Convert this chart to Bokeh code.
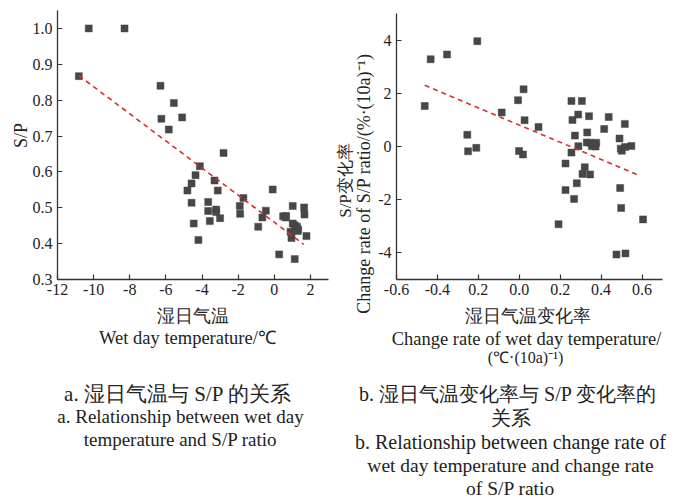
import math
from bokeh.plotting import figure
from bokeh.models import (FixedTicker, CustomJSTickFormatter, Range1d, LinearAxis,
                          Label)
from bokeh.embed import file_html
from bokeh.resources import INLINE

# ---------------- data ----------------
# Panel a: wet day temperature (°C) vs S/P
wet_temp = [-10.27, -8.29, -10.82, -6.30, -5.56, -6.25, -5.10, -5.84, -2.81, -4.12,
            -4.36, -3.31, -4.58, -4.81, -3.13, -0.09, -1.71, -4.58, -3.66, -1.91,
            1.02, 1.65, -3.66, -3.22, -3.22, -0.47, -1.89, 1.67, 0.49, 0.63,
            0.65, -0.66, -3.00, -3.57, -4.46, -0.89, 1.02, 1.13, 1.26, 1.32,
            1.30, 0.90, 0.95, 1.78, 0.27, 1.13, -4.20]
sp_ratio = [1.0, 1.0, 0.867, 0.84, 0.792, 0.748, 0.752, 0.718, 0.653, 0.616,
            0.591, 0.576, 0.568, 0.548, 0.548, 0.551, 0.527, 0.514, 0.516, 0.505,
            0.505, 0.501, 0.491, 0.495, 0.488, 0.492, 0.483, 0.481, 0.476, 0.473,
            0.477, 0.473, 0.471, 0.463, 0.456, 0.447, 0.456, 0.451, 0.447, 0.439,
            0.435, 0.433, 0.416, 0.421, 0.370, 0.357, 0.410]
trend_a_x = [-10.82, 1.63]
trend_a_slope = -0.0378
trend_a_intercept = 0.4595

# Panel b: change rate of wet day temperature vs change rate of S/P
rate_temp = [-0.205, -0.433, -0.353, -0.462, -0.086, -0.006, 0.021, 0.026, 0.094, -0.254,
             -0.250, -0.210, -0.001, 0.018, 0.192, 0.226, 0.226, 0.255, 0.306, 0.260,
             0.288, 0.341, 0.437, 0.272, 0.332, 0.415, 0.516, 0.490, 0.255, 0.289,
             0.330, 0.348, 0.376, 0.355, 0.373, 0.496, 0.501, 0.517, 0.548, 0.320,
             0.309, 0.346, 0.281, 0.268, 0.493, 0.498, 0.605, 0.475, 0.519]
rate_sp = [3.96, 3.28, 3.46, 1.52, 1.28, 1.74, 2.15, 0.99, 0.73, 0.44,
           -0.18, -0.05, -0.17, -0.30, -2.92, -0.64, -1.64, 1.71, 1.71, 1.00,
           1.20, 1.14, 1.11, 0.41, 0.53, 0.66, 0.85, 0.30, -0.23, 0.01,
           0.15, 0.14, 0.14, 0.01, 0.0, -0.08, -0.16, -0.02, 0.02, -0.78,
           -1.03, -1.05, -1.38, -1.97, -1.56, -2.31, -2.74, -4.06, -4.02]
trend_b_x = [-0.462, 0.574]
trend_b_slope = -3.234
trend_b_intercept = 0.806

# axis extents, ticks and tick labels
a_xlim = (-12, 3)
a_ylim = (0.3, 1.05)
b_xlim = (-0.6, 0.7)
b_ylim = (-5, 5)
a_xticks = [-12, -10, -8, -6, -4, -2, 0, 2]
a_xlabels = ["-12", "-10", "-8", "-6", "-4", "-2", "0", "2"]
a_yticks = [0.3, 0.4, 0.5, 0.6, 0.7, 0.8, 0.9, 1.0]
a_ylabels = ["0.3", "0.4", "0.5", "0.6", "0.7", "0.8", "0.9", "1.0"]
b_xticks = [-0.6, -0.4, -0.2, 0.0, 0.2, 0.4, 0.6]
b_xlabels = ["-0.6", "-0.4", "0.2", "0.0", "0.2", "0.4", "0.6"]
b_yticks = [-4, -2, 0, 2, 4]
b_ylabels = ["-4", "-2", "0", "2", "4"]

# texts
a_ytitle = "S/P"
a_xtitle_cn = "湿日气温"
a_xtitle_en = "Wet day temperature/℃"
b_ytitle_cn = "S/P变化率"
b_ytitle_en = "Change rate of S/P ratio/(%·(10a)⁻¹)"
b_xtitle_cn = "湿日气温变化率"
b_xtitle_en1 = "Change rate of wet day temperature/"
b_xtitle_en2 = "(℃·(10a)⁻¹)"
cap_a_cn = "a.  湿日气温与 S/P 的关系"
cap_a_en = ["a. Relationship between wet day", "temperature and S/P ratio"]
cap_b_cn = ["b.  湿日气温变化率与 S/P 变化率的", "关系"]
cap_b_en = ["b. Relationship between change rate of",
            "wet day temperature and change rate", "of S/P ratio"]

# ---------------- layout / style ----------------
W, H = 681, 498
FONT = "Liberation Serif"
INK = "#333333"
TXT = "#222222"
MARK = "#474747"
RED = "#d42f2f"
# pixel boxes of the two plot frames: (left, right, bottom, top)
A_BOX = (57, 328, 279, 10)
B_BOX = (396, 662, 279, 13)


def x_range_for(lim, box):
    k = (lim[1] - lim[0]) / (box[1] - box[0])
    start = lim[0] - box[0] * k
    return Range1d(start, start + W * k)


def y_range_for(lim, box):
    k = (lim[1] - lim[0]) / (box[2] - box[3])
    start = lim[0] - (H - box[2]) * k
    return Range1d(start, start + H * k)


p = figure(width=W, height=H, x_range=Range1d(0, W), y_range=Range1d(H, 0),
           x_axis_type=None, y_axis_type=None, output_backend="svg",
           toolbar_location=None, min_border=0, min_border_left=0,
           min_border_right=0, min_border_top=0, min_border_bottom=0)
p.outline_line_color = None
p.xgrid.visible = False
p.ygrid.visible = False
p.extra_x_ranges = {"ax": x_range_for(a_xlim, A_BOX), "bx": x_range_for(b_xlim, B_BOX)}
p.extra_y_ranges = {"ay": y_range_for(a_ylim, A_BOX), "by": y_range_for(b_ylim, B_BOX)}


def style_axis(ax, ticks, labels, standoff):
    ax.ticker = FixedTicker(ticks=ticks)
    ax.formatter = CustomJSTickFormatter(args=dict(labels=labels),
                                         code="return labels[index];")
    ax.axis_line_color = INK
    ax.axis_line_width = 1.3
    ax.major_tick_line_color = INK
    ax.major_tick_line_width = 1.2
    ax.major_tick_in = 5
    ax.major_tick_out = 0
    ax.minor_tick_line_color = None
    ax.major_label_text_font = FONT
    ax.major_label_text_font_style = "normal"
    ax.major_label_text_font_size = "16px"
    ax.major_label_text_color = TXT
    ax.major_label_standoff = standoff


for key, xlim, ylim, xt, xl, yt, yl in (("a", a_xlim, a_ylim, a_xticks, a_xlabels, a_yticks, a_ylabels),
                                        ("b", b_xlim, b_ylim, b_xticks, b_xlabels, b_yticks, b_ylabels)):
    xr, yr = key + "x", key + "y"
    xa = LinearAxis(x_range_name=xr, y_range_name=yr, fixed_location=ylim[0], bounds=xlim)
    style_axis(xa, xt, xl, 4)
    p.add_layout(xa, "below")
    ya = LinearAxis(x_range_name=xr, y_range_name=yr, fixed_location=xlim[0], bounds=ylim)
    style_axis(ya, yt, yl, 5)
    p.add_layout(ya, "left")

# ---------------- marks ----------------
p.scatter(wet_temp, sp_ratio, x_range_name="ax", y_range_name="ay", marker="square",
          size=7, fill_color=MARK, line_color=MARK, line_width=0.5)
p.line(trend_a_x, [trend_a_intercept + trend_a_slope * v for v in trend_a_x],
       x_range_name="ax", y_range_name="ay", line_color=RED, line_width=1.6,
       line_dash="5 4")
p.scatter(rate_temp, rate_sp, x_range_name="bx", y_range_name="by", marker="square",
          size=7, fill_color=MARK, line_color=MARK, line_width=0.5)
p.line(trend_b_x, [trend_b_intercept + trend_b_slope * v for v in trend_b_x],
       x_range_name="bx", y_range_name="by", line_color=RED, line_width=1.6,
       line_dash="5 4")


# ---------------- texts (positions in page pixels) ----------------
def add_text(x, y, text, size, angle=0.0):
    p.add_layout(Label(x=x, y=y, text=text, text_font=FONT, text_font_size=size,
                       text_color=TXT, text_align="center", text_baseline="middle",
                       angle=angle))


add_text(20, 135, a_ytitle, "18px", math.pi / 2)
add_text(345, 180, b_ytitle_cn, "17px", math.pi / 2)
add_text(363, 183, b_ytitle_en, "18px", math.pi / 2)

add_text(192, 315, a_xtitle_cn, "18px")
add_text(187, 337, a_xtitle_en, "18.5px")
add_text(527, 315, b_xtitle_cn, "18px")
add_text(526, 338, b_xtitle_en1, "18.5px")
add_text(525, 357, b_xtitle_en2, "16px")

add_text(180, 393, cap_a_cn, "21px")
add_text(180, 416, cap_a_en[0], "19px")
add_text(180, 439, cap_a_en[1], "19px")
add_text(510, 393, cap_b_cn[0], "20px")
add_text(510, 417, cap_b_cn[1], "20px")
add_text(510, 441, cap_b_en[0], "20px")
add_text(510, 465, cap_b_en[1], "19.5px")
add_text(510, 488, cap_b_en[2], "19.5px")

open("out.html", "w").write(file_html(p, INLINE))
